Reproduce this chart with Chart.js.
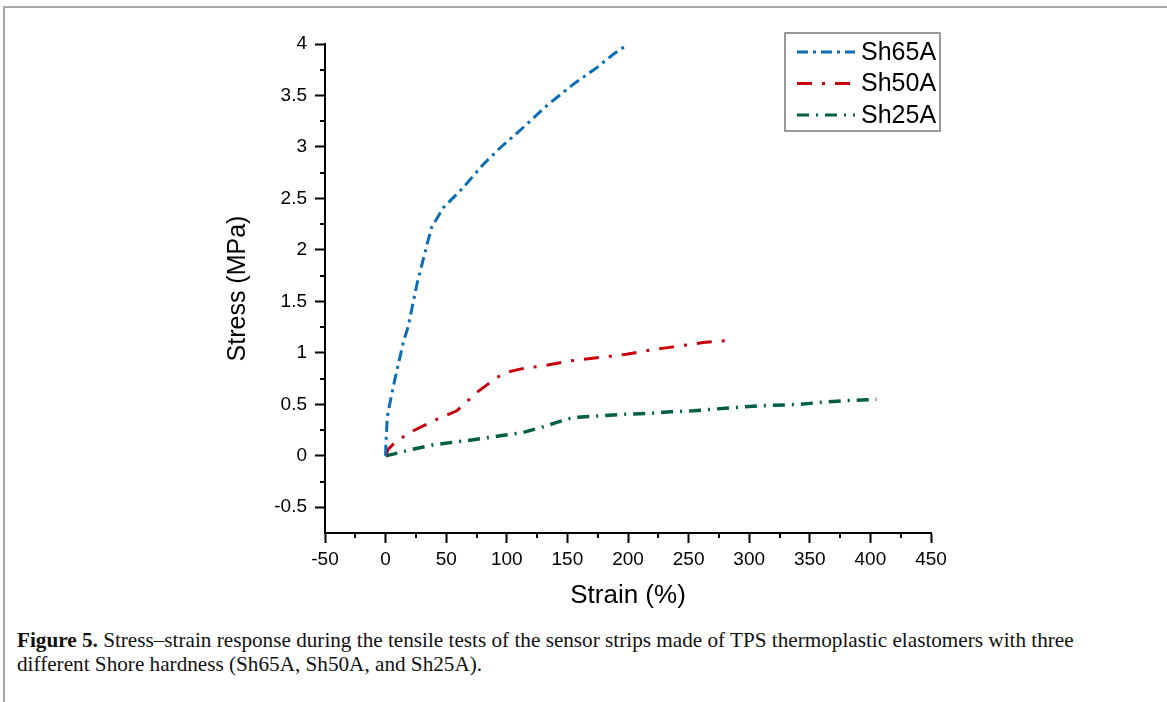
<!DOCTYPE html>
<html>
<head>
<meta charset="utf-8">
<script src="https://cdn.jsdelivr.net/npm/chart.js@4.4.1/dist/chart.umd.min.js"></script>
<style>
  html, body { margin: 0; padding: 0; background: #fff; }
  body { width: 1167px; height: 702px; position: relative; overflow: hidden; }
  #frame { position: absolute; left: 3px; top: 6px; right: 0; bottom: 0; border-top: 2px solid #a8a8a8; border-left: 2px solid #a8a8a8; }
  #chartWrap { position: absolute; left: 0; top: 0; width: 1167px; height: 620px; }
  #caption { position: absolute; left: 17px; top: 628px; width: 1140px; font-family: "Liberation Serif", "Times New Roman", serif; font-size: 21.2px; line-height: 24px; color: #111; white-space: nowrap; }
</style>
</head>
<body>
<div id="frame"></div>
<div id="chartWrap"><canvas id="stressChart" width="1167" height="620"></canvas></div>
<div id="caption"><b>Figure 5.</b> Stress–strain response during the tensile tests of the sensor strips made of TPS thermoplastic elastomers with three<br>different Shore hardness (Sh65A, Sh50A, and Sh25A).</div>
<script>
// values (strain in %, stress in MPa)
const sh65Strain = [0, 0.3, 1.4, 4.2, 7.8, 10.5, 14.6, 18.7, 22.9, 26.5, 29.8, 33.9, 38, 47.6, 62.8, 80.6, 94.4, 110.9, 132.9, 154.9, 174.2, 187.9, 198.9]
const sh65Stress = [0, 0.12, 0.38, 0.55, 0.75, 0.89, 1.1, 1.26, 1.5, 1.7, 1.85, 2.04, 2.22, 2.41, 2.59, 2.83, 2.99, 3.16, 3.4, 3.61, 3.77, 3.9, 3.99]

const sh50Strain = [0, 2.2, 9.2, 22.9, 39.4, 58.7, 75.2, 91.7, 99.9, 110.9, 132.9, 152, 176.9, 198.9, 218, 237.4, 262, 285.6]
const sh50Stress = [0, 0.065, 0.146, 0.243, 0.34, 0.437, 0.615, 0.76, 0.81, 0.842, 0.88, 0.922, 0.955, 0.987, 1.026, 1.058, 1.1, 1.123]

const sh25Strain = [0, 6.4, 20.1, 39.4, 58.7, 72.4, 94.4, 113.6, 130.1, 141.2, 154.9, 176.9, 198.9, 215.4, 234.7, 253.9, 270.4, 289.7, 307.5, 342, 358.4, 377.6, 397, 405]
const sh25Stress = [0, 0.016, 0.058, 0.107, 0.136, 0.155, 0.194, 0.227, 0.282, 0.324, 0.373, 0.388, 0.405, 0.41, 0.427, 0.437, 0.453, 0.47, 0.485, 0.5, 0.518, 0.534, 0.544, 0.55]

const seriesLabels = ['Sh65A', 'Sh50A', 'Sh25A']
const xTicks = [-50, 0, 50, 100, 150, 200, 250, 300, 350, 400, 450]
const yTicks = [-0.5, 0, 0.5, 1, 1.5, 2, 2.5, 3, 3.5, 4]

const toPoints = (xs, ys) => xs.map((x, i) => ({ x: x, y: ys[i] }))

const FONT = "'Liberation Sans', Arial, sans-serif"

// small extra ticks between the labelled ones, like Origin draws them
const minorTicks = {
  id: 'minorTicks',
  afterDraw(chart) {
    const ctx = chart.ctx
    const xs = chart.scales.x
    const ys = chart.scales.y
    ctx.save()
    ctx.strokeStyle = '#000'
    ctx.lineWidth = 2
    ctx.beginPath()
    for (let i = 0; i < xTicks.length - 1; i++) {
      const px = Math.round(xs.getPixelForValue((xTicks[i] + xTicks[i + 1]) / 2))
      ctx.moveTo(px, xs.top)
      ctx.lineTo(px, xs.top + 5)
    }
    for (let i = 0; i < yTicks.length - 1; i++) {
      const py = Math.round(ys.getPixelForValue((yTicks[i] + yTicks[i + 1]) / 2))
      ctx.moveTo(ys.right, py)
      ctx.lineTo(ys.right - 5, py)
    }
    ctx.stroke()
    ctx.restore()
  }
}

// framed legend at the top right, built from the datasets
const boxLegend = {
  id: 'boxLegend',
  afterDraw(chart) {
    const ctx = chart.ctx
    const left = 785, top = 33, w = 155, h = 98
    ctx.save()
    ctx.strokeStyle = '#7a7a7a'
    ctx.lineWidth = 1.5
    ctx.strokeRect(left, top, w, h)
    chart.data.datasets.forEach((ds, i) => {
      const y = top + 19 + i * 31.5
      ctx.strokeStyle = ds.borderColor
      ctx.lineWidth = 3
      ctx.setLineDash(ds.borderDash)
      ctx.beginPath()
      ctx.moveTo(797, y)
      ctx.lineTo(855, y)
      ctx.stroke()
      ctx.setLineDash([])
      ctx.fillStyle = '#000'
      ctx.font = '25px ' + FONT
      ctx.textBaseline = 'middle'
      ctx.fillText(ds.label, 861, y + 1)
    })
    ctx.restore()
  }
}

new Chart(document.getElementById('stressChart'), {
  type: 'scatter',
  data: {
    datasets: [
      {
        label: seriesLabels[0],
        data: toPoints(sh65Strain, sh65Stress),
        showLine: true,
        borderColor: '#0b6db3',
        borderWidth: 3,
        borderDash: [11, 5, 3, 5],
        pointRadius: 0,
      },
      {
        label: seriesLabels[1],
        data: toPoints(sh50Strain, sh50Stress),
        showLine: true,
        borderColor: '#c9000b',
        borderWidth: 3,
        borderDash: [15, 10, 3, 10],
        pointRadius: 0,
      },
      {
        label: seriesLabels[2],
        data: toPoints(sh25Strain, sh25Stress),
        showLine: true,
        borderColor: '#005f45',
        borderWidth: 3.5,
        borderDash: [12, 7, 2, 7],
        pointRadius: 0,
      }
    ]
  },
  options: {
    responsive: false,
    animation: false,
    layout: { padding: { left: 223, right: 236, top: 44, bottom: 9 } },
    plugins: {
      legend: { display: false },
      tooltip: { enabled: false },
    },
    scales: {
      x: {
        type: 'linear',
        min: xTicks[0],
        max: xTicks[xTicks.length - 1],
        afterFit: (scale) => { scale.height = 78 },
        afterBuildTicks: (scale) => { scale.ticks = xTicks.map(v => ({ value: v })) },
        border: { display: true, color: '#000', width: 2 },
        grid: { drawOnChartArea: false, drawTicks: true, tickLength: 10, tickWidth: 2, tickColor: '#000' },
        ticks: { color: '#000', padding: 5, font: { family: FONT, size: 19 }, callback: v => String(v) },
        title: { display: true, text: 'Strain (%)', color: '#000', padding: 0, font: { family: FONT, size: 26 } }
      },
      y: {
        type: 'linear',
        min: -0.75,
        max: 4,
        afterFit: (scale) => { scale.width = 102 },
        afterBuildTicks: (scale) => { scale.ticks = yTicks.map(v => ({ value: v })) },
        border: { display: true, color: '#000', width: 2 },
        grid: { drawOnChartArea: false, drawTicks: true, tickLength: 10, tickWidth: 2, tickColor: '#000' },
        ticks: { color: '#000', padding: 8, font: { family: FONT, size: 19 }, callback: v => String(v) },
        title: { display: true, text: 'Stress (MPa)', color: '#000', padding: 0, font: { family: FONT, size: 25 } }
      }
    }
  },
  plugins: [minorTicks, boxLegend]
})
</script>
</body>
</html>
